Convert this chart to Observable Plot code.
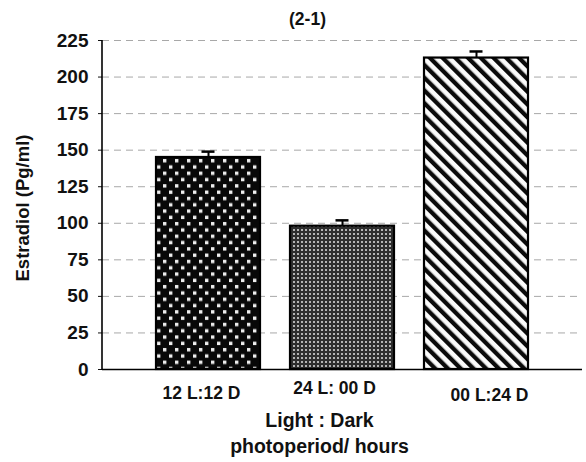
<!DOCTYPE html>
<html>
<head>
<meta charset="utf-8">
<script src="https://cdn.jsdelivr.net/npm/d3@7"></script>
<script src="https://cdn.jsdelivr.net/npm/@observablehq/plot@0.6"></script>
<style>
  html, body { margin: 0; padding: 0; background: #ffffff; }
  #chart svg { display: block; }
</style>
</head>
<body>
<div id="chart"></div>
<script>
// ---- data ----
const categories = ["12 L:12 D", "24 L: 00 D", "00 L:24 D"];
const estradiol = [145, 98, 213];
const errors = [4, 4, 4.5];
const yTicks = [0, 25, 50, 75, 100, 125, 150, 175, 200, 225];
const title = "(2-1)";
const yLabel = "Estradiol (Pg/ml)";
const xLabelLines = ["Light : Dark", "photoperiod/ hours"];

// ---- styles (not data) ----
const patternFor = {
  "12 L:12 D": "url(#pat-dots)",
  "24 L: 00 D": "url(#pat-check)",
  "00 L:24 D": "url(#pat-diag)"
};
const labelShift = {
  "12 L:12 D": {dx: -7, dy: 24},
  "24 L: 00 D": {dx: -8, dy: 19},
  "00 L:24 D": {dx: 13, dy: 26}
};

const rows = categories.map((c, i) => ({cat: c, value: estradiol[i], err: errors[i]}));
const font = "'Liberation Sans', Arial, sans-serif";

const chart = Plot.plot({
  width: 586,
  height: 462,
  marginLeft: 102,
  marginRight: 4,
  marginTop: 40,
  marginBottom: 93,
  style: {fontFamily: font, fontWeight: "bold", fontSize: "17px", color: "#111", background: "transparent"},
  x: {domain: categories, paddingInner: 0.222, paddingOuter: 0.4, label: null},
  y: {domain: [0, 225], label: null},
  marks: [
    Plot.ruleY(yTicks.filter(t => t > 0), {stroke: "#a8a8a8", strokeWidth: 1, strokeDasharray: "7,5"}),
    ...categories.map(c => Plot.barY(rows.filter(r => r.cat === c), {
      x: "cat", y: "value", fill: patternFor[c], stroke: "#000", strokeWidth: 2.2
    })),
    Plot.ruleX(rows, {x: "cat", y1: "value", y2: d => d.value + d.err, stroke: "#000", strokeWidth: 2}),
    Plot.tickY(rows, {x: "cat", y: d => d.value + d.err, stroke: "#000", strokeWidth: 2.5, insetLeft: 45.5, insetRight: 45.5}),
    Plot.axisY({ticks: yTicks, tickSize: 4, tickPadding: 10, fontSize: 19, fontWeight: "bold", label: null}),
    Plot.axisX({ticks: [], tickSize: 0, label: null}),
    Plot.ruleY([0], {stroke: "#000", strokeWidth: 1.5}),
    ...categories.map(c => Plot.text([c], {
      x: d => d, frameAnchor: "bottom", dx: labelShift[c].dx, dy: labelShift[c].dy,
      lineAnchor: "middle", fontSize: 17.5, fontWeight: "bold", fill: "#111"
    })),
    Plot.text([title], {frameAnchor: "top", dx: -35, dy: -21, lineAnchor: "middle", fontSize: 17.5, fontWeight: "bold", fill: "#111"}),
    Plot.text([yLabel], {frameAnchor: "left", textAnchor: "middle", lineAnchor: "middle", dx: -79, dy: 3, rotate: -90, fontSize: 18.5, fontWeight: "bold", fill: "#111"}),
    Plot.text([xLabelLines[0]], {frameAnchor: "bottom", dx: -23, dy: 51, lineAnchor: "middle", fontSize: 19.5, fontWeight: "bold", fill: "#111"}),
    Plot.text([xLabelLines[1]], {frameAnchor: "bottom", dx: -23, dy: 77, lineAnchor: "middle", fontSize: 19.5, fontWeight: "bold", fill: "#111"})
  ]
});

const svg = d3.select(chart);
// y axis line, positioned with the plot's own y scale
const yScale = chart.scale("y");
const [yLo, yHi] = yScale.domain;
const y0px = yScale.apply(yLo), y1px = yScale.apply(yHi);
svg.append("line")
  .attr("x1", 102).attr("x2", 102)
  .attr("y1", y0px + 0.75).attr("y2", y1px)
  .attr("stroke", "#000").attr("stroke-width", 1.6);

// pattern definitions
const defs = svg.insert("defs", ":first-child");
const p1 = defs.append("pattern").attr("id", "pat-dots").attr("patternUnits", "userSpaceOnUse")
  .attr("width", 12).attr("height", 12.6);
p1.append("rect").attr("width", 12).attr("height", 12.6).attr("fill", "#080808");
p1.append("rect").attr("x", 1).attr("y", 1.5).attr("width", 3.4).attr("height", 3.4).attr("fill", "#eeeeee");
p1.append("rect").attr("x", 7).attr("y", 7.8).attr("width", 3.4).attr("height", 3.4).attr("fill", "#eeeeee");

const p2 = defs.append("pattern").attr("id", "pat-check").attr("patternUnits", "userSpaceOnUse")
  .attr("width", 4).attr("height", 4);
p2.append("rect").attr("width", 4).attr("height", 4).attr("fill", "#2e2e2e");
p2.append("rect").attr("x", 1).attr("y", 1).attr("width", 2).attr("height", 2).attr("fill", "#b4b4b4");

const p3 = defs.append("pattern").attr("id", "pat-diag").attr("patternUnits", "userSpaceOnUse")
  .attr("width", 9).attr("height", 9).attr("patternTransform", "rotate(-45)");
p3.append("rect").attr("width", 9).attr("height", 9).attr("fill", "#fafafa");
p3.append("rect").attr("width", 4.3).attr("height", 9).attr("fill", "#0b0b0b");

document.getElementById("chart").appendChild(chart);
</script>
</body>
</html>
